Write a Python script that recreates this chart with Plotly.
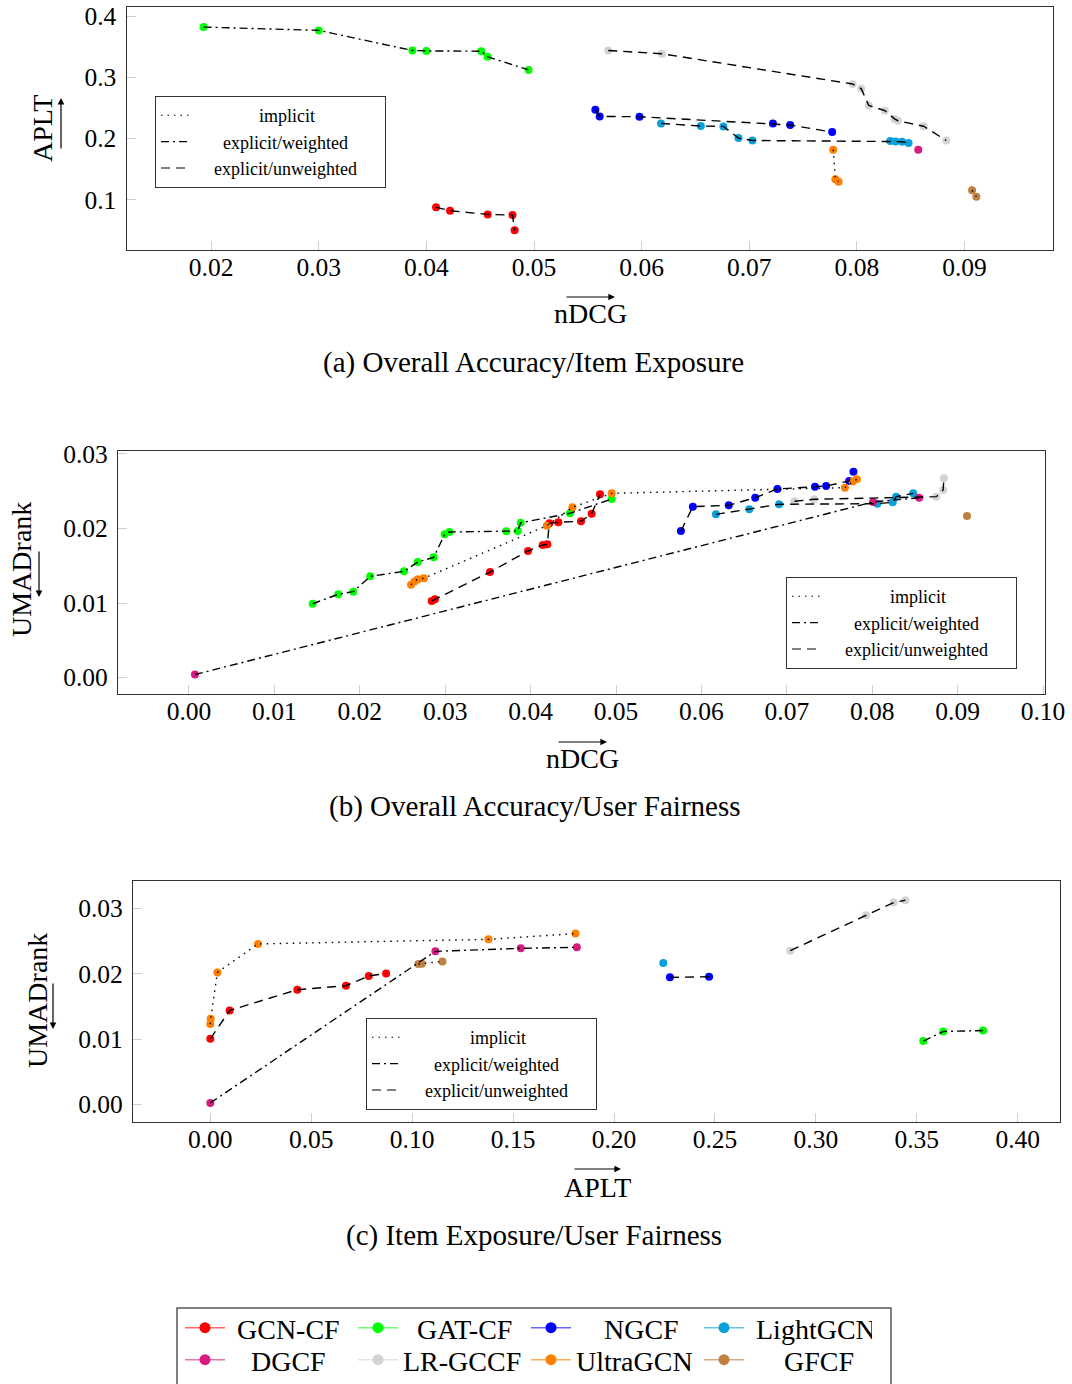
import plotly.graph_objects as go

W, H = 1072, 1384
FONT = "Liberation Serif"

models = ["GCN-CF", "GAT-CF", "NGCF", "LightGCN", "DGCF", "LR-GCCF", "UltraGCN", "GFCF"]
colors = ["#ff0000", "#00ff00", "#0000ff", "#0aa0da", "#d81b80", "#d3d3d3", "#ff8000", "#bf8040"]
legend_line_colors = ["#ff6666", "#66ff66", "#6666ff", "#66c4ec", "#e676b0", "#e4e4e4", "#ffaa55", "#d6aa80"]
# line style per model: implicit=dotted, explicit/weighted=dash-dot, explicit/unweighted=dashed
model_style = ["explicit/unweighted", "explicit/weighted", "explicit/unweighted", "explicit/unweighted",
               "explicit/weighted", "explicit/unweighted", "implicit", "implicit"]
style_names = ["implicit", "explicit/weighted", "explicit/unweighted"]
style_dash = {"implicit": "1.5px,5px", "explicit/weighted": "8px,4px,2px,4px", "explicit/unweighted": "9px,6px"}

# ---------------- Panel (a): nDCG vs APLT ----------------
a_gcn_x = [0.0409, 0.0422, 0.0457, 0.0480, 0.0482]
a_gcn_y = [0.0875, 0.0820, 0.0760, 0.0749, 0.0500]
a_gat_x = [0.0193, 0.0300, 0.0387, 0.0400, 0.0451, 0.0457, 0.0495]
a_gat_y = [0.3820, 0.3766, 0.3438, 0.3430, 0.3426, 0.3334, 0.3120]
a_ngcf_x = [0.0557, 0.0561, 0.0598, 0.0722, 0.0738, 0.0777]
a_ngcf_y = [0.2470, 0.2360, 0.2356, 0.2246, 0.2220, 0.2105]
a_lgcn_x = [0.0618, 0.0655, 0.0676, 0.0690, 0.0703, 0.0831, 0.0836, 0.0842, 0.0848]
a_lgcn_y = [0.2246, 0.2203, 0.2197, 0.2006, 0.1967, 0.1960, 0.1950, 0.1946, 0.1925]
a_dgcf_x = [0.0857]
a_dgcf_y = [0.1815]
a_lr_x = [0.0569, 0.0619, 0.0796, 0.0804, 0.0811, 0.0826, 0.0835, 0.0838, 0.0862, 0.0883]
a_lr_y = [0.3438, 0.3384, 0.2890, 0.2815, 0.2540, 0.2454, 0.2320, 0.2290, 0.2200, 0.1967]
a_ultra_x = [0.0778, 0.0780, 0.0783]
a_ultra_y = [0.1815, 0.1334, 0.1295]
a_gfcf_x = [0.0907, 0.0911]
a_gfcf_y = [0.1154, 0.1050]

# ---------------- Panel (b): nDCG vs UMADrank ----------------
b_gcn_x = [0.02842, 0.0288, 0.03525, 0.0397, 0.04142, 0.04196, 0.04219, 0.04325, 0.0459, 0.04715, 0.04813]
b_gcn_y = [0.01027, 0.0105, 0.01416, 0.01698, 0.01779, 0.01788, 0.0207, 0.02083, 0.02097, 0.02199, 0.02459]
b_gat_x = [0.01448, 0.01748, 0.01924, 0.02123, 0.02518, 0.02678, 0.02865, 0.02994, 0.03048, 0.03716,
           0.03849, 0.03884, 0.04461, 0.0495]
b_gat_y = [0.0099, 0.01117, 0.01152, 0.01358, 0.01425, 0.0155, 0.01613, 0.01922, 0.01953, 0.01962,
           0.01966, 0.02078, 0.02204, 0.02396]
b_ngcf_x = [0.0576, 0.0590, 0.0632, 0.0663, 0.0689, 0.0733, 0.0746, 0.0773, 0.0778]
b_ngcf_y = [0.01966, 0.02293, 0.02311, 0.02413, 0.0253, 0.0256, 0.0257, 0.02638, 0.02762]
b_lgcn_x = [0.0617, 0.0656, 0.0691, 0.0806, 0.0824, 0.0828, 0.0848]
b_lgcn_y = [0.0219, 0.02258, 0.02325, 0.02333, 0.02352, 0.02427, 0.02472]
b_dgcf_x = [0.0007, 0.0801, 0.0855]
b_dgcf_y = [0.0004, 0.02356, 0.02413]
b_lr_x = [0.0709, 0.0732, 0.0875, 0.0883, 0.0884]
b_lr_y = [0.02365, 0.02392, 0.02427, 0.02517, 0.02674]
b_ultra_x = [0.0260, 0.0264, 0.0268, 0.0275, 0.0419, 0.0449, 0.0495, 0.0768, 0.0777, 0.0782]
b_ultra_y = [0.01246, 0.0129, 0.0132, 0.01332, 0.02038, 0.02284, 0.02472, 0.02548, 0.0263, 0.0266]
b_gfcf_x = [0.0911]
b_gfcf_y = [0.02168]

# ---------------- Panel (c): APLT vs UMADrank ----------------
c_gcn_x = [0.0, 0.0096, 0.0431, 0.0672, 0.0785, 0.0871]
c_gcn_y = [0.01003, 0.01438, 0.01756, 0.01817, 0.01966, 0.02006]
c_gat_x = [0.3532, 0.3631, 0.3828]
c_gat_y = [0.00968, 0.01115, 0.01131]
c_ngcf_x = [0.2277, 0.2471]
c_ngcf_y = [0.01945, 0.01955]
c_lgcn_x = [0.2244]
c_lgcn_y = [0.02166]
c_dgcf_x = [0.0, 0.1115, 0.1538, 0.1816]
c_dgcf_y = [0.0002, 0.02344, 0.0239, 0.02406]
c_lr_x = [0.2873, 0.3249, 0.3385, 0.3443]
c_lr_y = [0.02355, 0.02897, 0.03092, 0.03128]
c_ultra_x = [0.0, 0.0002, 0.0035, 0.0236, 0.1378, 0.1809]
c_ultra_y = [0.01229, 0.0131, 0.0202, 0.02458, 0.02528, 0.02616]
c_gfcf_x = [0.1031, 0.1048, 0.1150]
c_gfcf_y = [0.0215, 0.02155, 0.0219]

panels = [
    ("x", "y", [(a_gcn_x, a_gcn_y), (a_gat_x, a_gat_y), (a_ngcf_x, a_ngcf_y), (a_lgcn_x, a_lgcn_y),
                (a_dgcf_x, a_dgcf_y), (a_lr_x, a_lr_y), (a_ultra_x, a_ultra_y), (a_gfcf_x, a_gfcf_y)]),
    ("x2", "y2", [(b_gcn_x, b_gcn_y), (b_gat_x, b_gat_y), (b_ngcf_x, b_ngcf_y), (b_lgcn_x, b_lgcn_y),
                  (b_dgcf_x, b_dgcf_y), (b_lr_x, b_lr_y), (b_ultra_x, b_ultra_y), (b_gfcf_x, b_gfcf_y)]),
    ("x3", "y3", [(c_gcn_x, c_gcn_y), (c_gat_x, c_gat_y), (c_ngcf_x, c_ngcf_y), (c_lgcn_x, c_lgcn_y),
                  (c_dgcf_x, c_dgcf_y), (c_lr_x, c_lr_y), (c_ultra_x, c_ultra_y), (c_gfcf_x, c_gfcf_y)]),
]

fig = go.Figure()

# markers
for xa, ya, series in panels:
    for i, (xs, ys) in enumerate(series):
        fig.add_trace(go.Scatter(x=xs, y=ys, mode="markers", xaxis=xa, yaxis=ya, showlegend=False,
                                 marker=dict(size=8, color=colors[i], line=dict(width=0)),
                                 hoverinfo="skip"))
# black connecting lines on top
for xa, ya, series in panels:
    for i, (xs, ys) in enumerate(series):
        if len(xs) > 1:
            fig.add_trace(go.Scatter(x=xs, y=ys, mode="lines", xaxis=xa, yaxis=ya, showlegend=False,
                                     line=dict(color="black", width=1.4, dash=style_dash[model_style[i]]),
                                     hoverinfo="skip"))

NB = "\u00a0"
# bottom model legend (two rows)
pad_names = {
    "GCN-CF": NB + "GCN-CF", "GAT-CF": NB * 2 + "GAT-CF", "NGCF": NB * 4 + "NGCF",
    "LightGCN": NB + "LightGCN", "DGCF": NB * 3 + "DGCF", "LR-GCCF": "LR-GCCF",
    "UltraGCN": "UltraGCN", "GFCF": NB * 5 + "GFCF",
}
for i, m in enumerate(models):
    fig.add_trace(go.Scatter(x=[None], y=[None], mode="lines+markers", name=pad_names[m],
                             legend="legend" if i < 4 else "legend2",
                             line=dict(color=legend_line_colors[i], width=1.5),
                             marker=dict(size=11, color=colors[i])))

# per-panel line style legends (centred text as in the original)
style_labels = {"implicit": NB * 14 + "implicit",
                "explicit/weighted": NB * 6 + "explicit/weighted",
                "explicit/unweighted": NB * 4 + "explicit/unweighted" + NB * 5}
for lg in ["legend3", "legend4", "legend5"]:
    for s in style_names:
        fig.add_trace(go.Scatter(x=[None], y=[None], mode="lines", name=style_labels[s], legend=lg,
                                 line=dict(color="black", width=1.1, dash=style_dash[s])))


def px_x(p):
    return p / W


def px_y(p):
    return 1 - p / H


axis_common = dict(showline=True, linecolor="#333333", linewidth=1.2, mirror=True, ticks="inside",
                   ticklen=9, tickcolor="#cfcfcf", tickwidth=1, showgrid=False, zeroline=False,
                   tickfont=dict(family=FONT, size=25.5, color="black"))

LEG_FONT = dict(family=FONT, size=18)
BOT_FONT = dict(family=FONT, size=28)

fig.update_layout(
    width=W, height=H, margin=dict(l=0, r=0, t=0, b=0, autoexpand=False),
    paper_bgcolor="white", plot_bgcolor="white",
    font=dict(family=FONT, size=25, color="black"),
    xaxis=dict(domain=[px_x(126.5), px_x(1053)], range=[0.01214, 0.09822], dtick=0.01, tick0=0,
               tickformat=".2f", anchor="y", ticklabelstandoff=-6, **axis_common),
    yaxis=dict(domain=[px_y(250), px_y(7)], range=[0.0178, 0.4148], dtick=0.1, tick0=0,
               tickformat=".1f", anchor="x", ticklabelstandoff=4, **axis_common),
    xaxis2=dict(domain=[px_x(118), px_x(1045)], range=[-0.00831, 0.10023], dtick=0.01, tick0=0,
                tickformat=".2f", anchor="y2", ticklabelstandoff=-6, **axis_common),
    yaxis2=dict(domain=[px_y(694), px_y(451)], range=[-0.00221, 0.0304], dtick=0.01, tick0=0,
                tickformat=".2f", anchor="x2", ticklabelstandoff=4, **axis_common),
    xaxis3=dict(domain=[px_x(133), px_x(1059.5)], range=[-0.0383, 0.4207], dtick=0.05, tick0=0,
                tickformat=".2f", anchor="y3", ticklabelstandoff=-6, **axis_common),
    yaxis3=dict(domain=[px_y(1122), px_y(880.5)], range=[-0.00272, 0.0343], dtick=0.01, tick0=0,
                tickformat=".2f", anchor="x3", ticklabelstandoff=4, **axis_common),
    legend=dict(orientation="h", x=px_x(180), y=px_y(1303), xanchor="left", yanchor="top",
                entrywidth=118, entrywidthmode="pixels", borderwidth=0, bgcolor="rgba(0,0,0,0)",
                font=BOT_FONT, tracegroupgap=0, itemwidth=40),
    legend2=dict(orientation="h", x=px_x(180), y=px_y(1335), xanchor="left", yanchor="top",
                 entrywidth=118, entrywidthmode="pixels", borderwidth=0, bgcolor="rgba(0,0,0,0)",
                 font=BOT_FONT, tracegroupgap=0, itemwidth=40),
    legend3=dict(x=px_x(155), y=px_y(96), xanchor="left", yanchor="top", bordercolor="#333333",
                 borderwidth=1, bgcolor="white", font=LEG_FONT),
    legend4=dict(x=px_x(786), y=px_y(577), xanchor="left", yanchor="top", bordercolor="#333333",
                 borderwidth=1, bgcolor="white", font=LEG_FONT),
    legend5=dict(x=px_x(366), y=px_y(1018), xanchor="left", yanchor="top", bordercolor="#333333",
                 borderwidth=1, bgcolor="white", font=LEG_FONT),
    shapes=[dict(type="rect", xref="paper", yref="paper", x0=px_x(177), x1=px_x(891),
                 y0=-0.02, y1=px_y(1308), line=dict(color="#555555", width=1.5))],
)

annotations = []


def text_ann(t, xp, yp, size=28, angle=0):
    annotations.append(dict(text=t, x=px_x(xp), y=px_y(yp), xref="paper", yref="paper",
                            showarrow=False, xanchor="center", yanchor="middle", textangle=angle,
                            font=dict(family=FONT, size=size, color="black")))


def arrow_ann(hx, hy, ax, ay):
    annotations.append(dict(text="", x=px_x(hx), y=px_y(hy), xref="paper", yref="paper",
                            showarrow=True, ax=ax, ay=ay, arrowhead=2, arrowsize=1.1,
                            arrowwidth=1.2, arrowcolor="black", standoff=0, startstandoff=0))


# axis titles
text_ann("nDCG", 590, 313)
arrow_ann(615, 297, -50, 0)
text_ann("APLT", 42, 129, angle=-90)
arrow_ann(61, 98, 0, 52)

text_ann("nDCG", 582, 758)
arrow_ann(607, 742, -50, 0)
text_ann("UMADrank", 22, 570, angle=-90)
arrow_ann(39, 597, 0, -47)

text_ann("APLT", 597, 1187)
arrow_ann(621, 1169, -48, 0)
text_ann("UMADrank", 37, 1001, angle=-90)
arrow_ann(53, 1029, 0, -47)

# captions
text_ann("(a) Overall Accuracy/Item Exposure", 533, 362, size=29)
text_ann("(b) Overall Accuracy/User Fairness", 534, 806, size=29)
text_ann("(c) Item Exposure/User Fairness", 534, 1235, size=29)

fig.update_layout(annotations=annotations)

fig.write_html("out.html", config={"displayModeBar": False},
               post_script="document.body.style.margin='0px';")
